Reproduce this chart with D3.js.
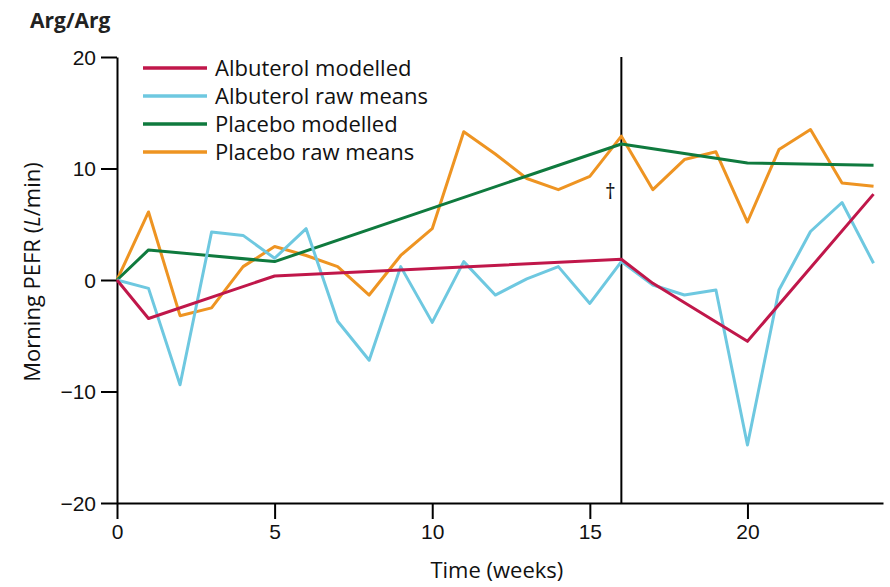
<!DOCTYPE html>
<html>
<head>
<meta charset="utf-8">
<script src="https://cdn.jsdelivr.net/npm/d3@7"></script>
<style>
  body { margin: 0; background: #fff; }
  svg { font-family: "Open Sans", sans-serif; }
</style>
</head>
<body>
<div id="chart"></div>
<script>
const weeks = d3.range(0, 25);

const placeboRaw = [0, 6.1, -3.2, -2.5, 1.2, 3.0, 2.2, 1.2, -1.35, 2.2, 4.6, 13.3, 11.3, 9.1, 8.1, 9.3, 12.9, 8.1, 10.8, 11.5, 5.2, 11.7, 13.5, 8.7, 8.4];
const albuterolRaw = [0, -0.75, -9.4, 4.3, 4.0, 1.95, 4.6, -3.7, -7.2, 1.2, -3.8, 1.65, -1.35, 0.1, 1.2, -2.1, 1.65, -0.45, -1.35, -0.9, -14.8, -0.9, 4.35, 6.95, 1.5];

const placeboModelWeeks = [0, 1, 5, 16, 20, 24];
const placeboModel = [0, 2.7, 1.65, 12.2, 10.5, 10.3];
const albuterolModelWeeks = [0, 1, 5, 16, 17, 20, 24];
const albuterolModel = [0, -3.45, 0.36, 1.86, -0.3, -5.5, 7.7];

const xTicks = [0, 5, 10, 15, 20];
const yTicks = [-20, -10, 0, 10, 20];
const switchWeek = 16;

const series = [
  { name: "Albuterol modelled", color: "#c0174a", x: albuterolModelWeeks, y: albuterolModel },
  { name: "Albuterol raw means", color: "#6ec8e0", x: weeks, y: albuterolRaw },
  { name: "Placebo modelled", color: "#0f7a3e", x: placeboModelWeeks, y: placeboModel },
  { name: "Placebo raw means", color: "#ee9422", x: weeks, y: placeboRaw }
];

const width = 890, height = 587;
const margin = { top: 57, right: 7, bottom: 84, left: 117 };

const svg = d3.select("#chart")
  .append("svg")
  .attr("width", width)
  .attr("height", height);

const x = d3.scaleLinear().domain([0, 24.3]).range([margin.left, width - margin.right]);
const y = d3.scaleLinear().domain([-20, 20]).range([height - margin.bottom, margin.top]);

// axes
const xAxis = svg.append("g")
  .attr("transform", `translate(0, ${y(-20)})`)
  .call(d3.axisBottom(x).tickValues(xTicks).tickSize(16).tickSizeOuter(0).tickPadding(4));
const yAxis = svg.append("g")
  .attr("transform", `translate(${x(0)}, 0)`)
  .call(d3.axisLeft(y).tickValues(yTicks).tickSize(16).tickSizeOuter(0).tickPadding(5)
    .tickFormat(d => d < 0 ? "\u2212" + Math.abs(d) : d));

[xAxis, yAxis].forEach(g => {
  g.select(".domain").attr("stroke", "#000").attr("stroke-width", 2);
  g.selectAll(".tick line").attr("stroke", "#000").attr("stroke-width", 2);
  g.selectAll(".tick text").attr("fill", "#111").style("font-size", "21px");
});
yAxis.selectAll(".tick text").attr("dy", "0.35em");
xAxis.selectAll(".tick text").attr("dy", "0.78em");

// vertical line at switch
svg.append("line")
  .attr("x1", x(switchWeek)).attr("x2", x(switchWeek))
  .attr("y1", y(20)).attr("y2", y(-20))
  .attr("stroke", "#000").attr("stroke-width", 2);

svg.append("text")
  .attr("x", x(switchWeek) - 11).attr("y", 199)
  .attr("text-anchor", "middle")
  .style("font-size", "21px").attr("fill", "#111")
  .text("\u2020");

// lines
const line = d3.line().x(d => x(d[0])).y(d => y(d[1]));
const order = [3, 2, 1, 0];
order.forEach(i => {
  const s = series[i];
  svg.append("path")
    .datum(s.x.map((w, j) => [w, s.y[j]]))
    .attr("fill", "none")
    .attr("stroke", s.color)
    .attr("stroke-width", 3)
    .attr("stroke-linejoin", "round")
    .attr("d", line);
});

// legend
const legend = svg.append("g").attr("transform", "translate(143, 68)");
series.forEach((s, i) => {
  const row = legend.append("g").attr("transform", `translate(0, ${i * 28})`);
  row.append("line").attr("x1", 0).attr("x2", 64)
    .attr("stroke", s.color).attr("stroke-width", 3.5);
  row.append("text").attr("x", 72).attr("dy", "0.35em")
    .style("font-size", "22px").attr("fill", "#111")
    .text(s.name);
});

// titles
svg.append("text")
  .attr("x", 30).attr("y", 28)
  .style("font-size", "21px").style("font-weight", "bold").attr("fill", "#222")
  .text("Arg/Arg");

svg.append("text")
  .attr("x", x(12.05)).attr("y", 578)
  .attr("text-anchor", "middle")
  .style("font-size", "22px").attr("fill", "#111")
  .text("Time (weeks)");

const yl = svg.append("text")
  .attr("transform", `translate(40, 272) rotate(-90)`)
  .attr("text-anchor", "middle")
  .style("font-size", "22px").attr("fill", "#111");
yl.append("tspan").text("Morning PEFR (");
yl.append("tspan").style("font-style", "italic").text("L");
yl.append("tspan").text("/min)");
</script>
</body>
</html>
